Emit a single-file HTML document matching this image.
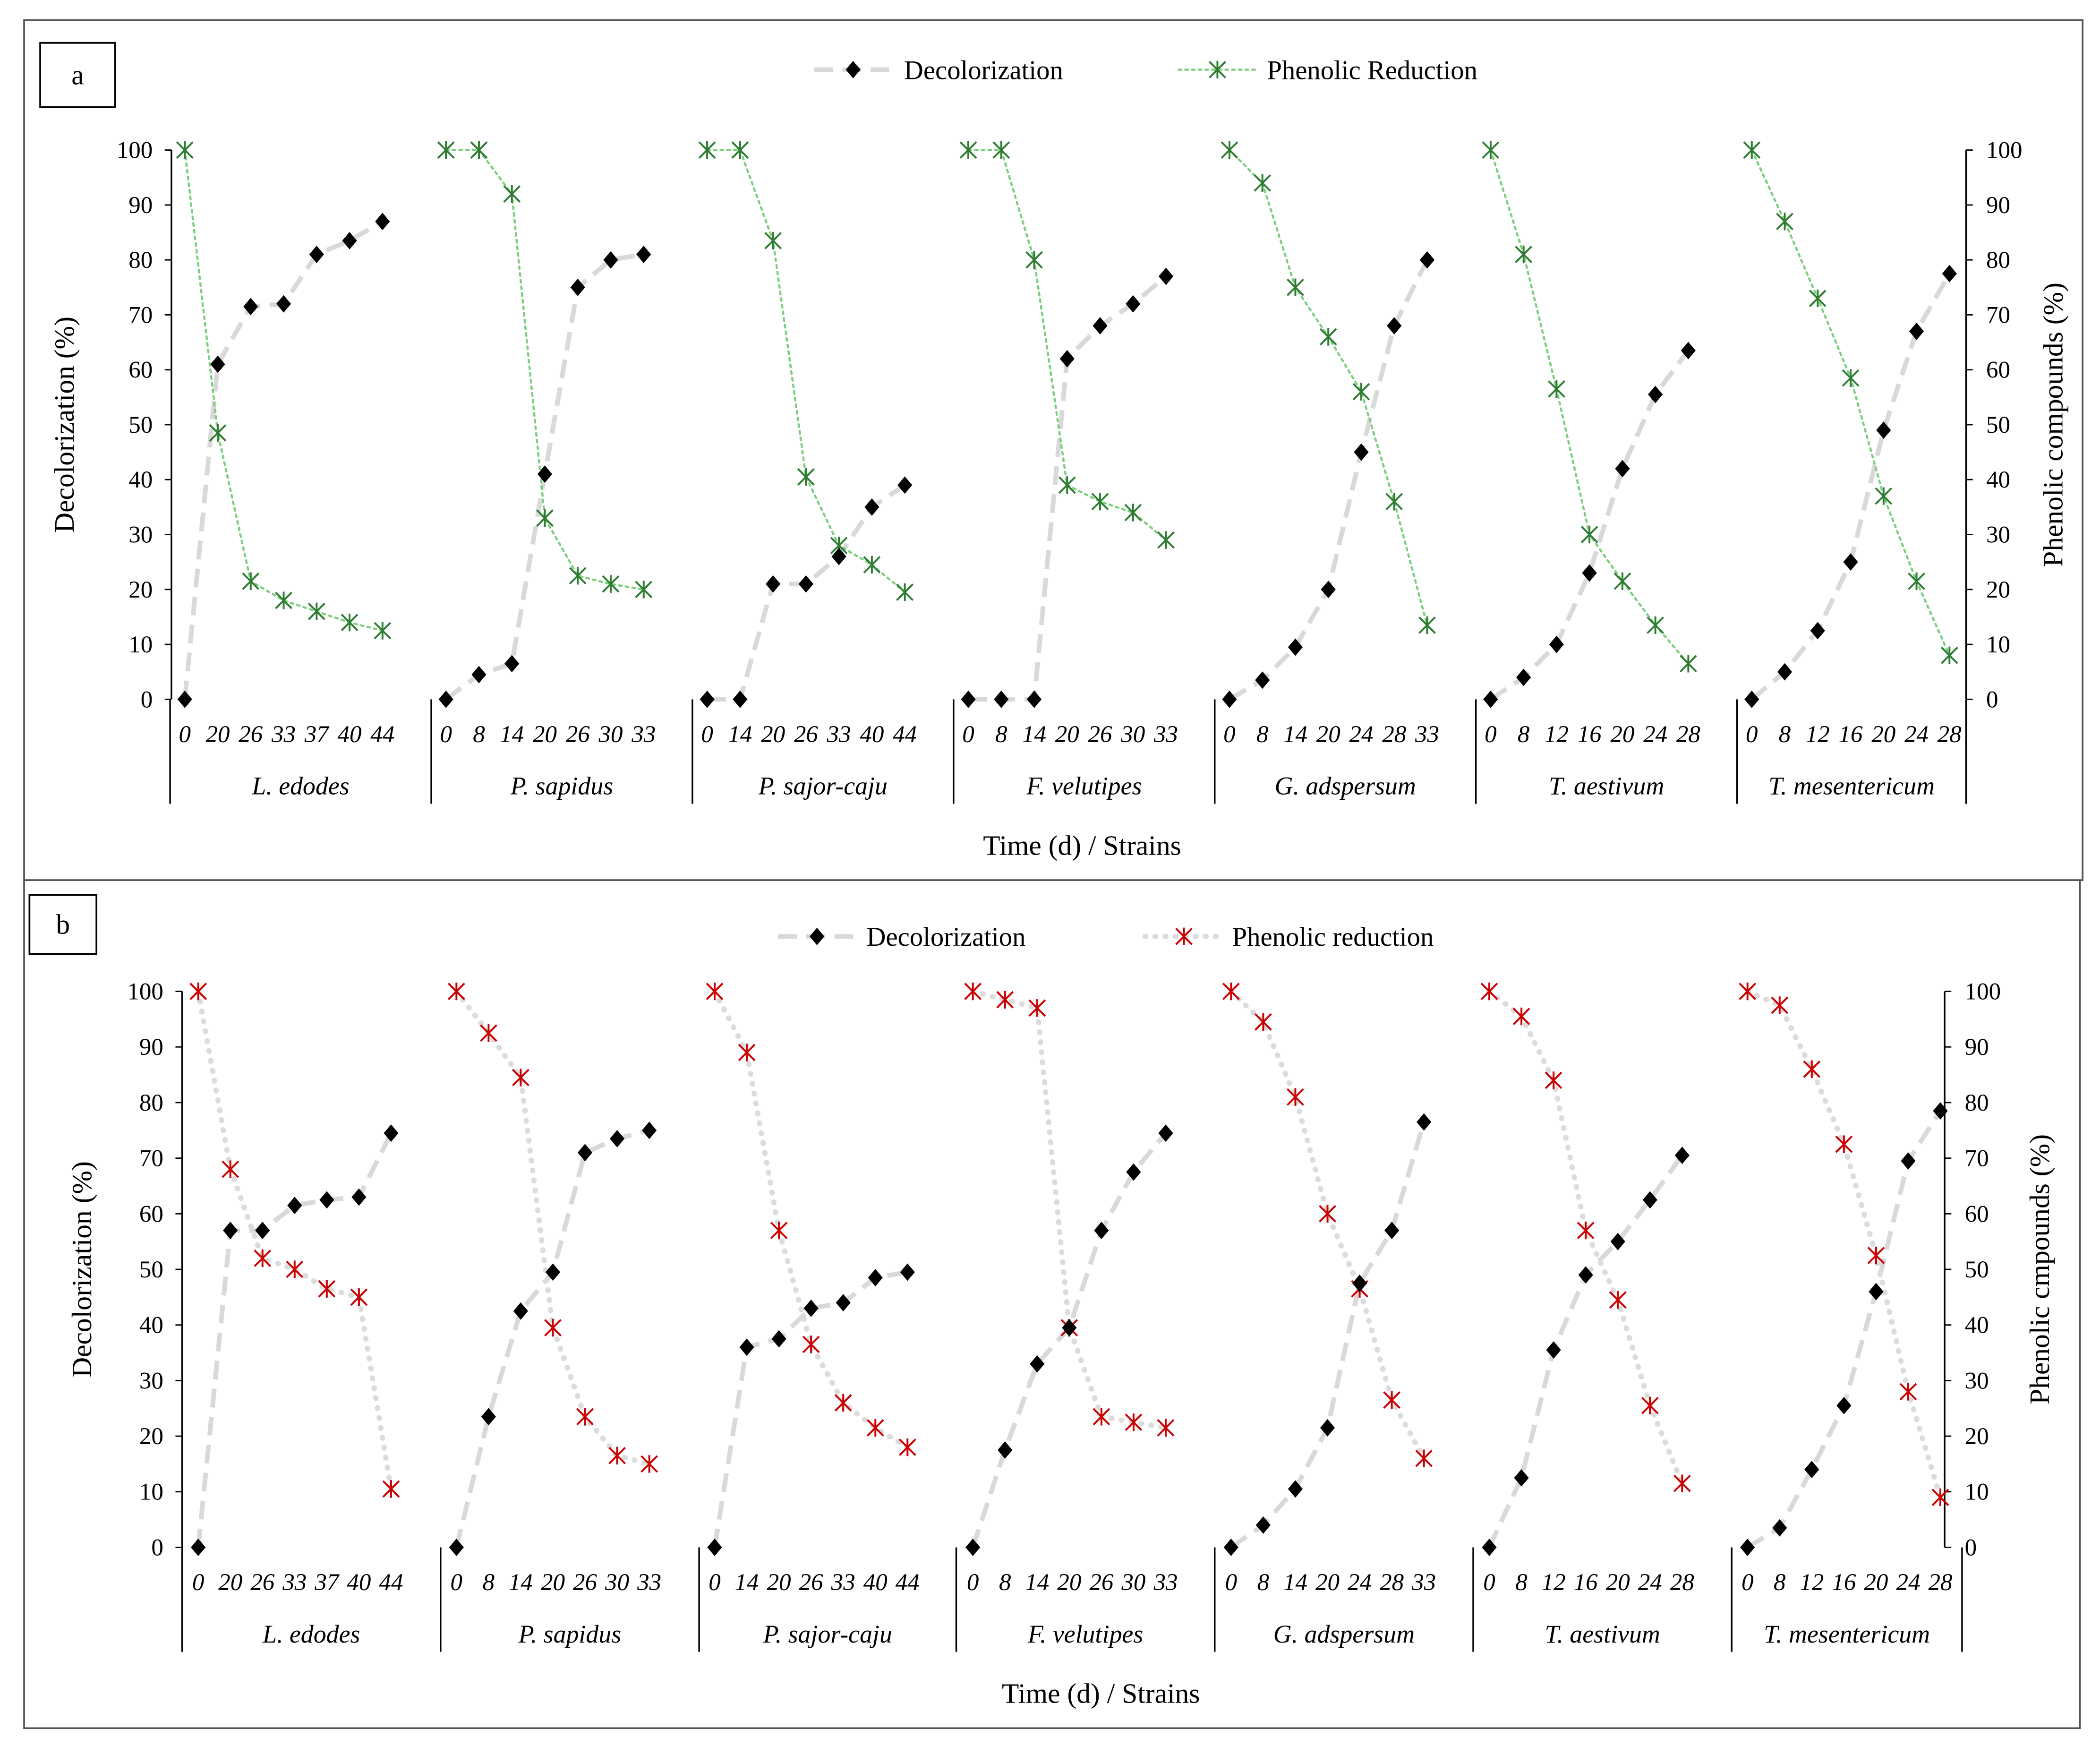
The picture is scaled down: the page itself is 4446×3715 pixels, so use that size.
<!DOCTYPE html>
<html><head><meta charset="utf-8">
<style>
html,body{margin:0;padding:0;background:#fff;}
svg{display:block;}
text{font-family:"Liberation Serif",serif;fill:#000;}
</style></head>
<body>
<svg id="chart" width="4446" height="3715" viewBox="0 0 1568 1310" preserveAspectRatio="none" xmlns="http://www.w3.org/2000/svg"></svg>
<script>
// ---------- Data ----------
const strains = ["L. edodes","P. sapidus","P. sajor-caju","F. velutipes","G. adspersum","T. aestivum","T. mesentericum"];
const dayLabels = [
  ["0","20","26","33","37","40","44"],
  ["0","8","14","20","26","30","33"],
  ["0","14","20","26","33","40","44"],
  ["0","8","14","20","26","30","33"],
  ["0","8","14","20","24","28","33"],
  ["0","8","12","16","20","24","28"],
  ["0","8","12","16","20","24","28"]
];
const yTicks = [0,10,20,30,40,50,60,70,80,90,100];
const decolA = [
  [0,61,71.5,72,81,83.5,87],
  [0,4.5,6.5,41,75,80,81],
  [0,0,21,21,26,35,39],
  [0,0,0,62,68,72,77],
  [0,3.5,9.5,20,45,68,80],
  [0,4,10,23,42,55.5,63.5],
  [0,5,12.5,25,49,67,77.5]
];
const phenolA = [
  [100,48.5,21.5,18,16,14,12.5],
  [100,100,92,33,22.5,21,20],
  [100,100,83.5,40.5,28,24.5,19.5],
  [100,100,80,39,36,34,29],
  [100,94,75,66,56,36,13.5],
  [100,81,56.5,30,21.5,13.5,6.5],
  [100,87,73,58.5,37,21.5,8]
];
const decolB = [
  [0,57,57,61.5,62.5,63,74.5],
  [0,23.5,42.5,49.5,71,73.5,75],
  [0,36,37.5,43,44,48.5,49.5],
  [0,17.5,33,39.5,57,67.5,74.5],
  [0,4,10.5,21.5,47.5,57,76.5],
  [0,12.5,35.5,49,55,62.5,70.5],
  [0,3.5,14,25.5,46,69.5,78.5]
];
const phenolB = [
  [100,68,52,50,46.5,45,10.5],
  [100,92.5,84.5,39.5,23.5,16.5,15],
  [100,89,57,36.5,26,21.5,18],
  [100,98.5,97,39.5,23.5,22.5,21.5],
  [100,94.5,81,60,46.5,26.5,16],
  [100,95.5,84,57,44.5,25.5,11.5],
  [100,97.5,86,72.5,52.5,28,9]
];

// ---------- Helpers ----------
const NS = "http://www.w3.org/2000/svg";
const svg = document.getElementById("chart");
function mk(tag, attrs, parent, txt){
  const e = document.createElementNS(NS, tag);
  for (const k in attrs) e.setAttribute(k, attrs[k]);
  if (txt !== undefined) e.textContent = txt;
  (parent || svg).appendChild(e);
  return e;
}
function diamond(x,y,g){
  const e = mk("polygon",{points:`${x},${y-6.5} ${x+5.5},${y} ${x},${y+6.5} ${x-5.5},${y}`,fill:"#000"},g);
  
  
  return e;
}
function asterisk(x,y,color,g){
  const s = 6;
  const gg = mk("g",{stroke:color,"stroke-width":1.4,fill:"none"},g);
  
  
  mk("line",{x1:x-s,y1:y-s,x2:x+s,y2:y+s},gg);
  mk("line",{x1:x-s,y1:y+s,x2:x+s,y2:y-s},gg);
  mk("line",{x1:x,y1:y-s*1.1,x2:x,y2:y+s*1.1},gg);
  return gg;
}

function panel(cfg){
  const g = mk("g",{});
  
  
  // border
  const b = mk("rect",{x:cfg.box[0],y:cfg.box[1],width:cfg.box[2]-cfg.box[0],height:cfg.box[3]-cfg.box[1],fill:"none",stroke:"#555","stroke-width":1.3},g);
   
  // label box
  const lb = mk("rect",{x:cfg.lbox[0],y:cfg.lbox[1],width:cfg.lbox[2],height:cfg.lbox[3],fill:"#fff",stroke:"#000","stroke-width":1.3},g);
   
  const lt = mk("text",{x:cfg.lbox[0]+cfg.lbox[2]/2,y:cfg.lbox[1]+cfg.lbox[3]/2+7,"text-anchor":"middle","font-size":21},g,cfg.letter);
   

  const yS = v => cfg.y0 + (cfg.y100 - cfg.y0) * v / 100;
  const xS = (i,j) => cfg.xFirst + i*cfg.gStep + j*cfg.pStep;

  // axes
  const la = mk("line",{x1:cfg.axL,y1:cfg.y100,x2:cfg.axL,y2:cfg.y0,stroke:"#000","stroke-width":1.2},g);
   
  const ra = mk("line",{x1:cfg.axR,y1:cfg.y100,x2:cfg.axR,y2:cfg.y0,stroke:"#000","stroke-width":1.2},g);
   
  yTicks.forEach(t=>{
    const y = yS(t);
    mk("line",{x1:cfg.axL-5,y1:y,x2:cfg.axL,y2:y,stroke:"#000","stroke-width":1},g);
    mk("line",{x1:cfg.axR,y1:y,x2:cfg.axR+5,y2:y,stroke:"#000","stroke-width":1},g);
    const tl = mk("text",{x:cfg.axL-14,y:y+6,"text-anchor":"end","font-size":18},g,String(t));
     
    const tr = mk("text",{x:cfg.axR+15,y:y+6,"text-anchor":"start","font-size":18},g,String(t));
     
  });
  // category box lines
  cfg.bounds.forEach(bx=>{
    const l = mk("line",{x1:bx,y1:cfg.y0,x2:bx,y2:cfg.y0+78,stroke:"#000","stroke-width":1.2},g);
     
  });
  // tick labels & strain labels
  strains.forEach((s,i)=>{
    dayLabels[i].forEach((d,j)=>{
      const t = mk("text",{x:xS(i,j),y:cfg.y0+32,"text-anchor":"middle","font-size":18,"font-style":"italic"},g,d);
       
    });
    const cx = (cfg.bounds[i]+cfg.bounds[i+1])/2;
    const st = mk("text",{x:cx,y:cfg.y0+71,"text-anchor":"middle","font-size":19,"font-style":"italic"},g,s);
     
  });
  // axis titles
  const xt = mk("text",{x:cfg.xTitleX,y:cfg.y0+116,"text-anchor":"middle","font-size":21},g,"Time (d) / Strains");
   
  const cy = (cfg.y0+cfg.y100)/2;
  const yl = mk("text",{x:cfg.yTitleL,y:cy,"text-anchor":"middle","font-size":21,transform:`rotate(-90 ${cfg.yTitleL} ${cy})`},g,"Decolorization (%)");
   
  const yr = mk("text",{x:cfg.yTitleR,y:cy,"text-anchor":"middle","font-size":21,transform:`rotate(-90 ${cfg.yTitleR} ${cy})`},g,cfg.rightTitle);
   

  // series
  strains.forEach((s,i)=>{
    const dp = cfg.decol[i].map((v,j)=>`${xS(i,j)},${yS(v)}`).join(" ");
    const pp = cfg.phen[i].map((v,j)=>`${xS(i,j)},${yS(v)}`).join(" ");
    const dl = mk("polyline",{points:dp,fill:"none",stroke:"#d9d9d9","stroke-width":3.5,"stroke-dasharray":"14 7"},g);
     
    const pl = mk("polyline",{points:pp,fill:"none",stroke:cfg.phenLine,"stroke-width":cfg.phenW,"stroke-dasharray":cfg.phenDash,"stroke-linecap":"round"},g);
     
  });
  strains.forEach((s,i)=>{
    cfg.phen[i].forEach((v,j)=>asterisk(xS(i,j),yS(v),cfg.phenMark,g));
    cfg.decol[i].forEach((v,j)=>diamond(xS(i,j),yS(v),g));
  });

  // legend
  const L = cfg.legend;
  const lg1 = mk("g",{},g);  
  mk("line",{x1:L.d[0],y1:L.y,x2:L.d[0]+58,y2:L.y,stroke:"#d9d9d9","stroke-width":3.5,"stroke-dasharray":"14 7"},lg1);
  diamond(L.d[0]+29,L.y,lg1);
  mk("text",{x:L.d[1],y:L.y+7,"font-size":20},lg1,"Decolorization");
  const lg2 = mk("g",{},g);  
  mk("line",{x1:L.p[0],y1:L.y,x2:L.p[0]+58,y2:L.y,stroke:cfg.phenLine,"stroke-width":cfg.phenW,"stroke-dasharray":cfg.phenDash,"stroke-linecap":"round"},lg2);
  asterisk(L.p[0]+29,L.y,cfg.phenMark,lg2);
  mk("text",{x:L.p[1],y:L.y+7,"font-size":20},lg2,cfg.phenLabel);
}

panel({
  name:"panel-a", letter:"a", box:[18,15,1555,657], lbox:[30,32,56,48],
  y0:522, y100:112, axL:128, axR:1468, xFirst:138, gStep:195, pStep:24.6,
  bounds:[127,322,517,712,907,1102,1297,1468],
  xTitleX:808, yTitleL:55, yTitleR:1540, rightTitle:"Phenolic compounds (%)",
  decol:decolA, phen:phenolA, phenLine:"#7ccf7c", phenW:1.6, phenDash:"2 3",
  phenMark:"#2e7d32", phenLabel:"Phenolic Reduction",
  legend:{y:52, d:[608,675], p:[880,946]}
});
panel({
  name:"panel-b", letter:"b", box:[18,657,1553,1290], lbox:[22,668,50,44],
  y0:1155, y100:740, axL:136, axR:1452, xFirst:148, gStep:192.8, pStep:24,
  bounds:[136,329,522,714,907,1100,1293,1465],
  xTitleX:822, yTitleL:68, yTitleR:1530, rightTitle:"Phenolic cmpounds (%)",
  decol:decolB, phen:phenolB, phenLine:"#dcdcdc", phenW:4, phenDash:"0.5 7",
  phenMark:"#cc0000", phenLabel:"Phenolic reduction",
  legend:{y:699, d:[581,647], p:[855,920]}
});
</script>
</body></html>
